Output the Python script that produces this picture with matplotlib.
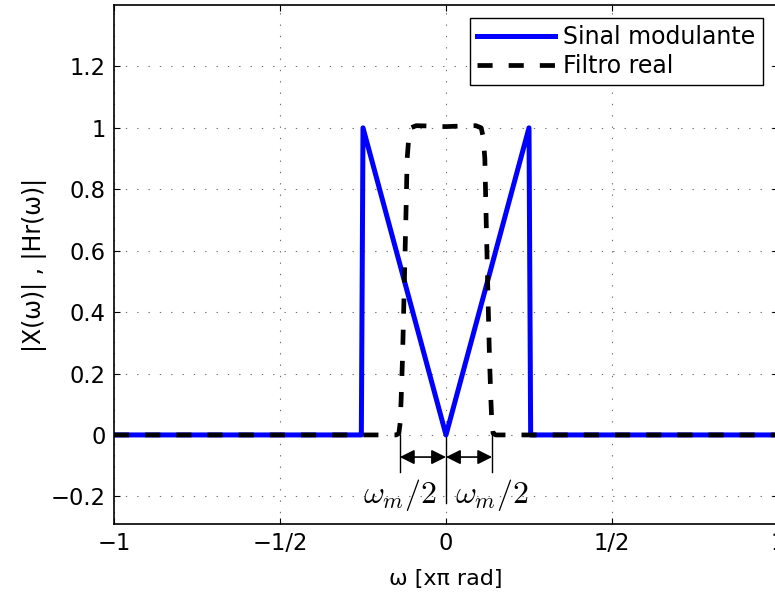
import numpy as np
import matplotlib
matplotlib.use("Agg")
import matplotlib.pyplot as plt

# Modulating signal spectrum |X(w)| (w in units of pi rad)
w_sig = [-1.0, -0.255, -0.25, 0.0, 0.25, 0.255, 1.0]
x_sig = [0.0, 0.0, 1.0, 0.0, 1.0, 0.0, 0.0]

# Real low-pass filter |Hr(w)|, read point by point
w_filt = [-1.0, -0.15, -0.142, -0.138, -0.135, -0.131, -0.1265, -0.121, -0.117,
          -0.112, -0.106, -0.09, -0.05, 0.0, 0.05, 0.09, 0.106, 0.112, 0.117,
          0.121, 0.1265, 0.131, 0.135, 0.138, 0.142, 0.15, 1.0]
h_filt = [0.0, 0.0, 0.005, 0.04, 0.12, 0.25, 0.45, 0.70, 0.90,
          0.97, 1.0, 1.007, 1.006, 1.004, 1.006, 1.007, 1.0, 0.97, 0.90,
          0.70, 0.45, 0.25, 0.12, 0.04, 0.005, 0.0, 0.0]

wm_half = 0.139

xticks = [-1, -0.5, 0, 0.5, 1]
xticklabels = ["\u22121", "\u22121/2", "0", "1/2", "1"]
yticks = [-0.2, 0, 0.2, 0.4, 0.6, 0.8, 1.0, 1.2]
yticklabels = ["\u22120.2", "0", "0.2", "0.4", "0.6", "0.8", "1", "1.2"]

plt.rcParams["font.family"] = ["DejaVu Sans"]
plt.rcParams["mathtext.fontset"] = "cm"

fig = plt.figure(figsize=(7.75, 5.99), dpi=100)
ax = fig.add_axes([114 / 775, 75 / 599, 664 / 775, 519 / 599])

ax.plot(w_sig, x_sig, color="#0000ff", lw=3.6, label="Sinal modulante",
        solid_joinstyle="round", zorder=3)
ax.plot(w_filt, h_filt, color="black", lw=3.4, dashes=(3.2, 3.4),
        dash_capstyle="butt", label="Filtro real", zorder=4)

ax.set_xlim(-1, 1)
ax.set_ylim(-0.29, 1.4)
ax.set_xticks(xticks)
ax.set_xticklabels(xticklabels)
ax.set_yticks(yticks)
ax.set_yticklabels(yticklabels)
ax.tick_params(direction="in", length=4.5, width=0.8, top=True, right=True,
               labelsize=16.3, pad=6)
ax.grid(True, color="#707070", lw=0.8, linestyle=(0, (1.2, 9)))
for s in ax.spines.values():
    s.set_linewidth(1.2)

ax.set_xlabel("\u03c9 [x\u03c0 rad]", fontsize=16, labelpad=10)
ax.set_ylabel("|X(\u03c9)| , |Hr(\u03c9)|", fontsize=17, labelpad=2.5)

# width markers for w_m/2 below the axis
for xv, y_end in [(-wm_half, -0.12), (0.0, -0.22), (wm_half, -0.12)]:
    ax.plot([xv, xv], [0.0, y_end], color="black", lw=1.0, zorder=2)
for x0, x1 in [(-wm_half, 0.0), (0.0, wm_half)]:
    ax.annotate("", xy=(x1, -0.072), xytext=(x0, -0.072),
                arrowprops=dict(arrowstyle="<|-|>", color="black", lw=1.2,
                                mutation_scale=22, shrinkA=0, shrinkB=0))
ax.text(-wm_half, -0.197, r"$\omega_m/2$", fontsize=23, ha="center", va="center")
ax.text(wm_half, -0.197, r"$\omega_m/2$", fontsize=23, ha="center", va="center")

leg = ax.legend(loc="upper right", bbox_to_anchor=(0.977, 0.975), borderaxespad=0,
                fontsize=17, handlelength=3.3, handletextpad=0.35, fancybox=False,
                framealpha=1, edgecolor="black", borderpad=0.3, labelspacing=0.2)
leg.get_frame().set_linewidth(1.0)

fig.savefig("out.png", dpi=100)
